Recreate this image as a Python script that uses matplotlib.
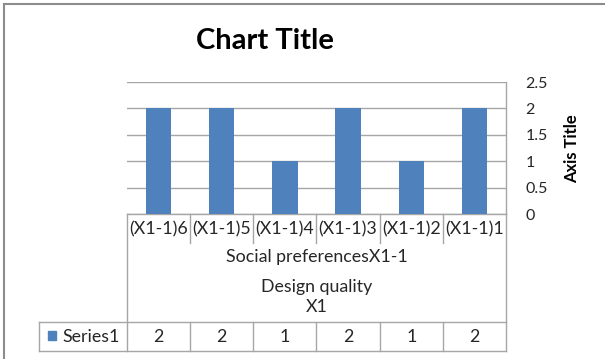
import matplotlib
matplotlib.use("Agg")
import matplotlib.pyplot as plt
from matplotlib.lines import Line2D
from matplotlib.patches import Rectangle

categories = ["(X1-1)6", "(X1-1)5", "(X1-1)4", "(X1-1)3", "(X1-1)2", "(X1-1)1"]
values = [2, 2, 1, 2, 1, 2]
series_name = "Series1"
group_label_1 = "Social preferencesX1-1"
group_label_2 = "Design quality\nX1"
yticks = [0, 0.5, 1, 1.5, 2, 2.5]
ytick_labels = ["0", "0.5", "1", "1.5", "2", "2.5"]

plt.rcParams['font.family'] = ['Lato', 'DejaVu Sans']

W, H = 605, 359
fig = plt.figure(figsize=(W / 100, H / 100), dpi=100)

# plot area in pixels
L, R, T, B = 127, 506, 82, 214
ax = fig.add_axes([L / W, 1 - B / H, (R - L) / W, (B - T) / H])

bar_color = '#4F81BD'
grid_color = '#A6A6A6'
line_color = '#A6A6A6'
text_color = '#262626'
fs = 12.8

x = list(range(len(categories)))
ax.bar(x, values, width=0.4, color=bar_color, zorder=3)
ax.set_xlim(-0.5, len(categories) - 0.5)
ax.set_ylim(0, 2.5)
ax.set_yticks(yticks)
ax.set_yticklabels(ytick_labels)
ax.yaxis.tick_right()
ax.tick_params(axis='y', length=0, pad=14, labelsize=11.5, labelcolor=text_color)
ax.set_xticks([])
ax.grid(axis='y', color=grid_color, linewidth=1, zorder=0)
for s in ['left', 'top', 'bottom']:
    ax.spines[s].set_visible(False)
ax.spines['right'].set_color(line_color)
ax.spines['right'].set_linewidth(1)

ph = B - T
def yf(ypix):
    return (B - ypix) / ph

xt = ax.get_xaxis_transform()
n = len(categories)
px_per_cat = (R - L) / n
x_leg = -0.5 - (L - 39) / px_per_cat

def hline(x0, x1, ypix):
    ax.add_line(Line2D([x0, x1], [yf(ypix), yf(ypix)], transform=xt, color=line_color, lw=1, clip_on=False))

def vline(xd, y0, y1):
    ax.add_line(Line2D([xd, xd], [yf(y0), yf(y1)], transform=xt, color=line_color, lw=1, clip_on=False))

hline(-0.5, n - 0.5, B)
hline(x_leg, n - 0.5, 322)
hline(x_leg, n - 0.5, 351)
vline(-0.5, B, 351)
vline(n - 0.5, B, 351)
vline(x_leg, 322, 351)
for i in range(1, n):
    vline(i - 0.5, B, 243)
    vline(i - 0.5, 322, 351)

for i, c in enumerate(categories):
    ax.text(i, yf(229), c, transform=xt, ha='center', va='center', fontsize=fs, color=text_color)
    ax.text(i, yf(337), str(values[i]), transform=xt, ha='center', va='center', fontsize=fs, color=text_color)

ax.text((n - 1) / 2, yf(257), group_label_1, transform=xt, ha='center', va='center', fontsize=fs, color=text_color)
ax.text((n - 1) / 2, yf(297), group_label_2, transform=xt, ha='center', va='center', fontsize=fs, color=text_color, linespacing=1.3)

fig.patches.append(Rectangle((48 / W, 1 - 340 / H), 8 / W, 9 / H, transform=fig.transFigure, color=bar_color))
fig.text(62 / W, 1 - 337 / H, series_name, ha='left', va='center', fontsize=fs, color=text_color)

fig.text(265 / W, 1 - 41 / H, "Chart Title", ha='center', va='center', fontsize=21, fontweight='bold', color='black')
fig.text(572 / W, 1 - 149 / H, "Axis Title", ha='center', va='center', rotation=90, fontsize=12, fontweight='bold', color='black')

fig.add_artist(Line2D([4 / W, 1], [1 - 4 / H, 1 - 4 / H], transform=fig.transFigure, color='#8C8C8C', lw=1.5))
fig.add_artist(Line2D([4 / W, 4 / W], [0, 1 - 4 / H], transform=fig.transFigure, color='#8C8C8C', lw=1.5))

fig.savefig("out.png", dpi=100)
